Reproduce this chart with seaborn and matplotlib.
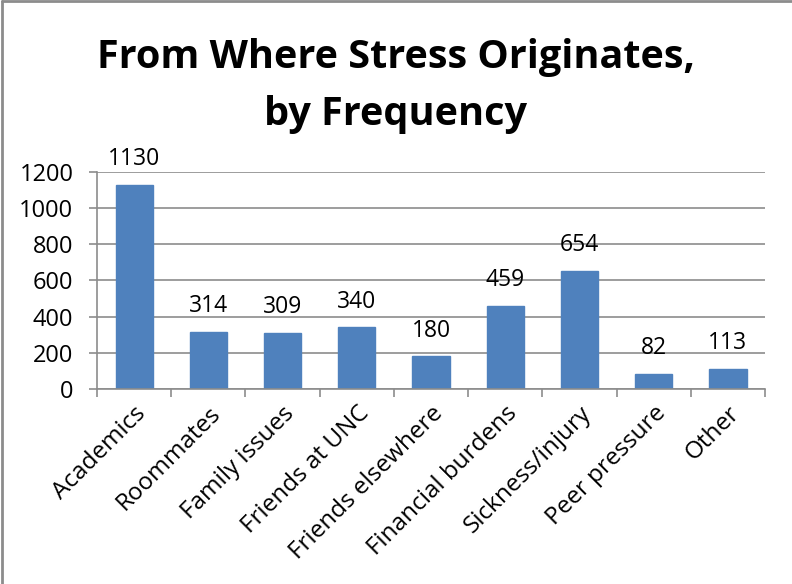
import matplotlib
matplotlib.use("Agg")
import matplotlib.pyplot as plt
import seaborn as sns
import pandas as pd
from matplotlib.lines import Line2D

categories = ["Academics", "Roommates", "Family issues", "Friends at UNC",
              "Friends elsewhere", "Financial burdens", "Sickness/injury",
              "Peer pressure", "Other"]
counts = [1130, 314, 309, 340, 180, 459, 654, 82, 113]
y_ticks = [0, 200, 400, 600, 800, 1000, 1200]

sns.set_theme(style="white")
plt.rcParams["font.family"] = ["Open Sans", "DejaVu Sans"]
plt.rcParams["text.color"] = "black"
plt.rcParams["xtick.labelcolor"] = "black"
plt.rcParams["ytick.labelcolor"] = "black"

df = pd.DataFrame({"source": categories, "count": counts})

fig = plt.figure(figsize=(7.92, 5.84), dpi=100)
ax = fig.add_axes([0.1225, 0.334, 0.966 - 0.1225, 0.7055 - 0.334])

sns.barplot(data=df, x="source", y="count", color="#4F81BD", width=0.5,
            saturation=1, ax=ax, edgecolor="#4F81BD")

ax.set_ylim(0, 1200)
ax.set_xlim(-0.5, len(categories) - 0.5)
ax.set_yticks(y_ticks)
ax.set_yticklabels([str(v) for v in y_ticks], fontsize=17)
ax.yaxis.grid(True, color="#8c8c8c", linewidth=1.2)
ax.set_axisbelow(True)

ax.set_xticks(range(len(categories)))
ax.set_xticklabels(categories, rotation=45, ha="right", va="top",
                   rotation_mode="anchor", fontsize=17.5)
ax.set_xticks([i - 0.5 for i in range(len(categories) + 1)], minor=True)
ax.tick_params(axis="x", which="major", length=0, pad=9)
ax.tick_params(axis="x", which="minor", length=6, width=1.2, color="#8c8c8c",
               direction="out", bottom=True)
ax.tick_params(axis="y", length=6, width=1.2, color="#8c8c8c", direction="out",
               left=True, pad=11)
ax.set_xlabel("")
ax.set_ylabel("")

for side in ["top", "right"]:
    ax.spines[side].set_visible(False)
for side in ["left", "bottom"]:
    ax.spines[side].set_color("#8c8c8c")
    ax.spines[side].set_linewidth(1.2)

ax.bar_label(ax.containers[0], labels=[str(v) for v in counts],
             padding=10, fontsize=16.5, color="black")

fig.text(0.5, 0.8836, "From Where Stress Originates,", ha="center",
         va="baseline", fontsize=28.5, fontweight="bold", color="black")
fig.text(0.5, 0.786, "by Frequency", ha="center", va="baseline",
         fontsize=28.5, fontweight="bold", color="black")

# outer frame (top and left edges)
fig.add_artist(Line2D([0.003, 1.0], [0.998, 0.998], transform=fig.transFigure,
                      color="#8c8c8c", linewidth=2))
fig.add_artist(Line2D([0.003, 0.003], [0.0, 0.998], transform=fig.transFigure,
                      color="#8c8c8c", linewidth=2))

fig.savefig("out.png", dpi=100, facecolor="white")
